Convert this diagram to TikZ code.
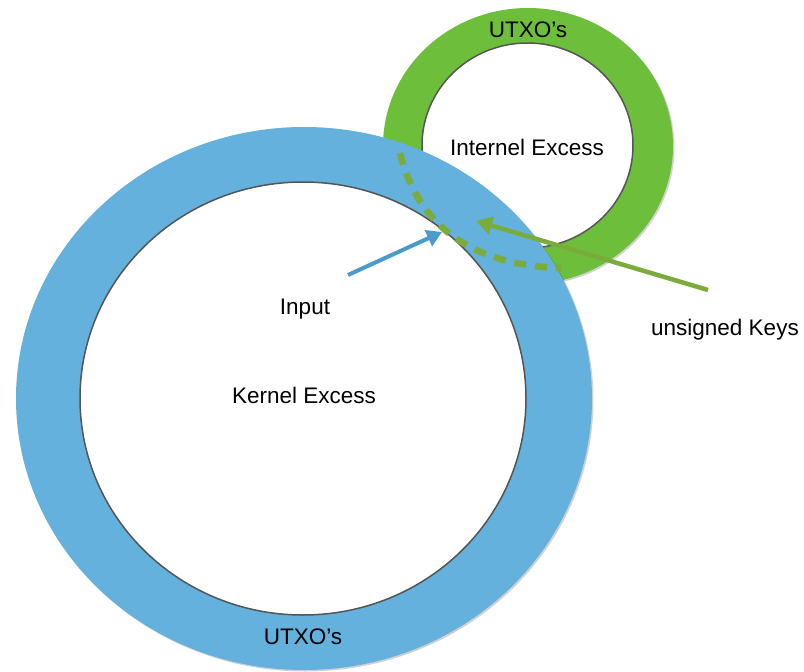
\documentclass[tikz,border=0pt]{standalone}
\usepackage{fontspec}
\setmainfont{Liberation Sans}
\usetikzlibrary{arrows.meta}
\definecolor{ringblue}{HTML}{63B1DC}
\definecolor{ringgreen}{HTML}{6DBE3B}
\definecolor{dashgreen}{HTML}{79AC3A}
\definecolor{arrowblue}{HTML}{489BCB}
\definecolor{rimgray}{HTML}{555555}
\begin{document}
\begin{tikzpicture}[x=1pt,y=-1pt,
  shadowfill/.style={fill=black,opacity=0.18},
  rim/.style={fill=white,draw=rimgray,line width=1.5pt},
  lbl/.style={font=\fontsize{22.5}{27}\selectfont,inner sep=0pt,text=black},
  bluearrow/.style={draw=arrowblue,line width=4pt,-{Triangle[length=15pt,width=17pt]}},
  greenarrow/.style={draw=dashgreen,line width=4.5pt,-{Triangle[length=16pt,width=18pt]}},
  dashline/.style={draw=dashgreen,line width=6.5pt,dash pattern=on 12pt off 9pt}]
\useasboundingbox (0,0) rectangle (804,672);
% green ring
\fill[shadowfill] (529.5,147.5) ellipse [x radius=145pt, y radius=138pt];
\fill[ringgreen] (528,146) ellipse [x radius=145pt, y radius=138pt];
\draw[rim] (527.5,145.5) ellipse [x radius=105.5pt, y radius=102.5pt];
% blue ring
\fill[shadowfill] (305.5,400) ellipse [x radius=288pt, y radius=271.5pt];
\fill[ringblue] (304,398.5) ellipse [x radius=288pt, y radius=271.5pt];
\draw[rim] (303,398.5) ellipse [x radius=223pt, y radius=216.5pt];
% dashed boundary
\coordinate (dashStart) at (400,153);
\coordinate (dashEnd) at (561,268);
\draw[dashline] (dashStart) .. controls (418,225) and (470,265) .. (dashEnd);
% labels
\node[lbl] (utxoTop) at (528,30) {UTXO’s};
\node[lbl] (internel) at (527,147) {Internel Excess};
\node[lbl] (input) at (305,309) {Input};
\node[lbl] (kernel) at (304,395) {Kernel Excess};
\node[lbl] (utxoBottom) at (303,637) {UTXO’s};
\node[lbl] (keys) at (725,330) {unsigned Keys};
% arrows
\coordinate (inputTail) at (348,275);
\coordinate (inputTip) at (442,232);
\draw[bluearrow] (inputTail) -- (inputTip);
\coordinate (keysTail) at (708,290);
\coordinate (keysTip) at (476,221);
\draw[greenarrow] (keysTail) -- (keysTip);
\end{tikzpicture}
\end{document}
